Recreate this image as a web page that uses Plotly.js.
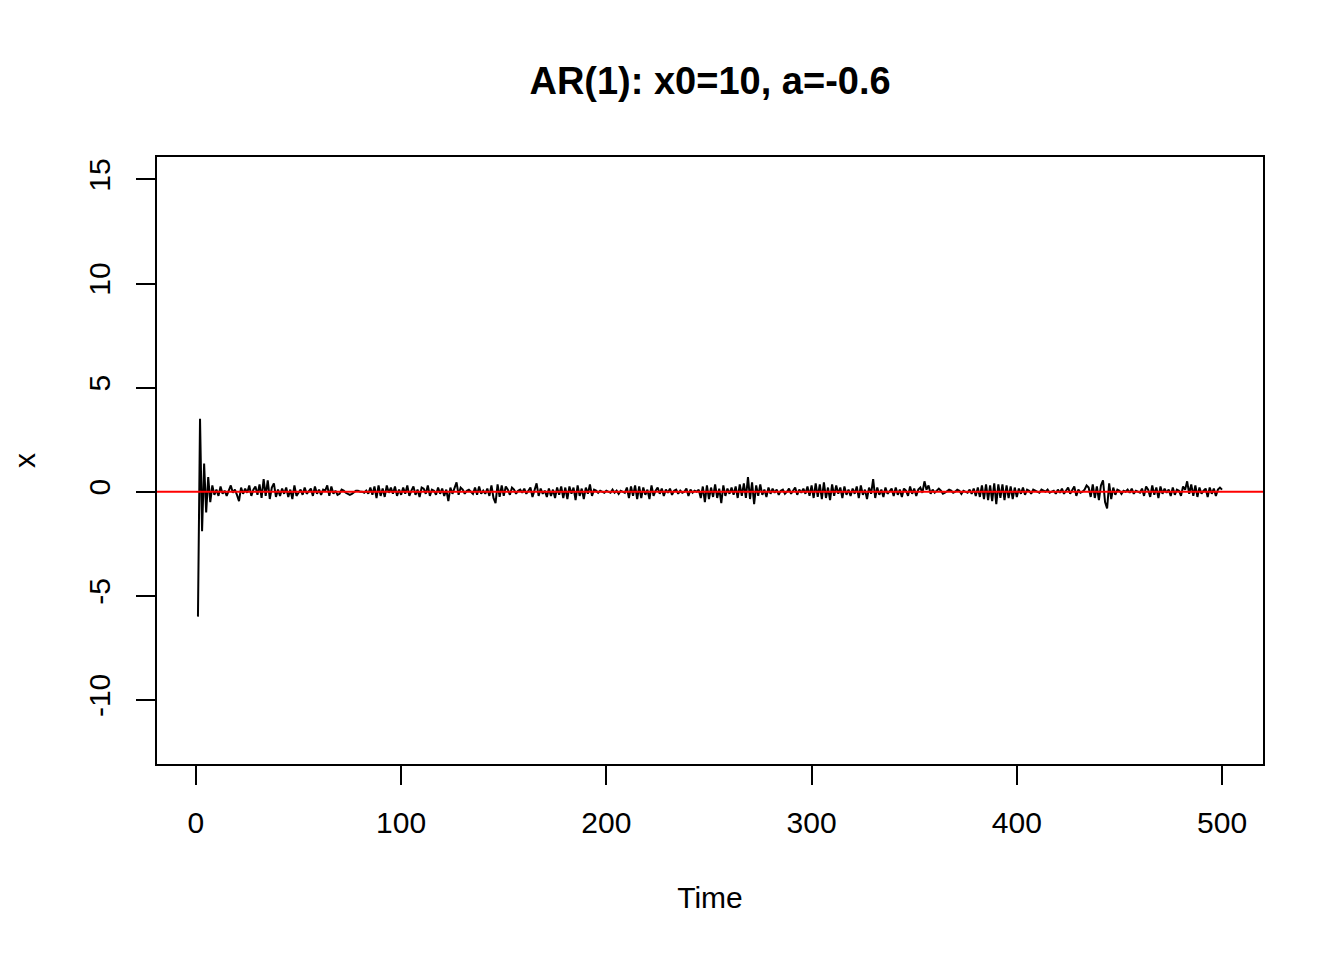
<!DOCTYPE html>
<html>
<head>
<meta charset="utf-8">
<script src="https://cdn.plot.ly/plotly-3.0.1.min.js"></script>
<style>html,body{margin:0;padding:0;background:#fff;}#chart{width:1344px;height:960px;}</style>
</head>
<body>
<div id="chart"></div>
<script>
// AR(1) series values (t = 1..500)
const seriesX = [
-6.0, 3.5, -1.9, 1.35, -1.0, 0.7, -0.5, 0.3, -0.15, 0.1, -0.2, 0.25, -0.1, 0.05, -0.2, 0.1, 0.3, -0.05, 0.1, -0.15,
-0.45, 0.2, -0.1, 0.15, -0.05, 0.3, -0.2, 0.1, 0.25, -0.15, 0.35, -0.3, 0.6, -0.2, 0.55, -0.35, 0.2, 0.4, -0.25, 0.1,
-0.2, 0.15, -0.1, 0.2, -0.25, 0.1, -0.35, 0.3, -0.2, -0.05, 0.1, -0.15, 0.2, -0.1, 0.05, 0.15, -0.2, 0.25, -0.1, 0.1,
-0.15, 0.1, 0.05, 0.3, -0.2, 0.25, -0.1, 0.05, -0.15, -0.1, 0.1, 0.05, -0.05, -0.1, -0.15, -0.1, 0.0, 0.05, 0.05, 0.0,
0.0, -0.05, 0.05, -0.1, 0.2, -0.15, 0.25, -0.3, 0.3, -0.2, 0.15, -0.25, 0.3, -0.05, 0.2, -0.1, 0.25, -0.2, 0.1, -0.15,
0.2, -0.1, 0.3, -0.2, 0.05, 0.25, -0.15, 0.1, -0.25, 0.2, 0.15, -0.1, 0.3, -0.2, 0.1, 0.05, -0.15, 0.2, -0.1, 0.15,
-0.2, 0.1, -0.45, 0.2, -0.1, 0.15, 0.45, -0.15, 0.2, 0.1, -0.1, 0.05, 0.1, 0.0, -0.1, 0.2, -0.15, 0.25, -0.1, 0.05,
-0.1, 0.15, -0.2, 0.3, -0.3, -0.55, 0.35, -0.25, 0.3, -0.2, 0.25, 0.1, -0.15, 0.2, 0.1, -0.1, 0.05, 0.1, -0.05, 0.15,
-0.1, 0.05, 0.2, -0.25, 0.1, 0.4, -0.2, 0.15, -0.1, 0.05, -0.25, 0.15, -0.2, 0.1, -0.3, 0.2, -0.15, 0.25, -0.3, 0.2,
-0.35, 0.25, -0.1, 0.2, -0.4, 0.3, -0.2, 0.15, -0.35, 0.2, -0.1, 0.35, -0.2, 0.1, 0.05, -0.05, 0.05, 0.0, -0.05, 0.05,
0.0, -0.05, 0.1, -0.05, 0.05, -0.1, 0.05, 0.0, -0.05, 0.2, -0.3, 0.25, -0.2, 0.3, -0.35, 0.25, -0.3, 0.2, -0.15, 0.1,
-0.35, 0.3, -0.2, 0.05, 0.2, -0.1, 0.15, -0.2, 0.1, -0.05, 0.15, -0.15, 0.05, 0.1, -0.1, 0.05, -0.05, 0.0, 0.15, -0.2,
0.1, -0.05, 0.05, 0.0, 0.1, -0.3, 0.25, -0.5, 0.3, -0.35, 0.2, -0.25, 0.35, -0.3, 0.15, -0.55, 0.3, -0.2, 0.15, -0.1,
0.2, -0.15, 0.25, -0.3, 0.35, -0.2, 0.4, -0.3, 0.7, -0.35, 0.45, -0.6, 0.3, -0.2, 0.35, -0.15, 0.1, -0.25, 0.2, -0.1,
0.15, -0.05, 0.1, -0.15, 0.05, 0.1, -0.1, 0.0, 0.15, -0.1, 0.05, 0.2, -0.15, 0.1, -0.05, 0.15, -0.1, 0.25, -0.2, 0.3,
-0.3, 0.4, -0.25, 0.35, -0.35, 0.45, -0.3, 0.2, -0.4, 0.35, -0.2, 0.3, -0.1, 0.2, -0.3, 0.25, -0.15, 0.1, -0.2, 0.15,
-0.1, 0.25, -0.3, 0.3, -0.15, 0.1, -0.35, 0.2, -0.1, 0.6, -0.3, 0.2, -0.15, 0.1, -0.25, 0.2, -0.1, 0.05, 0.15, -0.2,
0.2, -0.15, 0.1, -0.25, 0.15, 0.05, -0.2, 0.25, -0.1, 0.15, -0.2, 0.1, 0.2, -0.05, 0.5, 0.1, 0.3, -0.1, 0.1, -0.05,
0.05, 0.15, 0.05, -0.1, -0.05, 0.05, 0.1, 0.05, -0.05, 0.0, 0.1, 0.05, -0.1, 0.05, 0.0, -0.05, 0.1, -0.1, 0.15, -0.2,
0.2, -0.25, 0.3, -0.35, 0.35, -0.4, 0.3, -0.45, 0.4, -0.6, 0.35, -0.3, 0.35, -0.4, 0.3, -0.3, 0.25, -0.35, 0.2, -0.25,
0.15, -0.1, 0.2, -0.15, 0.1, 0.05, -0.1, 0.1, 0.05, 0.0, -0.05, 0.1, 0.05, 0.0, 0.1, -0.05, 0.0, 0.05, -0.1, 0.1,
-0.05, 0.15, -0.1, 0.05, 0.2, -0.1, 0.05, 0.25, -0.2, 0.1, -0.05, 0.0, 0.1, 0.3, 0.2, -0.25, 0.35, -0.3, 0.25, -0.4,
0.3, 0.55, -0.5, -0.8, 0.4, -0.35, 0.2, -0.15, 0.1, 0.05, -0.1, 0.05, 0.0, 0.1, -0.05, 0.15, -0.1, 0.05, 0.0, -0.05,
0.15, -0.2, 0.25, 0.1, -0.25, 0.3, -0.15, 0.2, -0.3, 0.25, -0.1, 0.15, -0.05, 0.1, -0.2, 0.2, -0.15, 0.1, 0.05, -0.2,
0.25, 0.1, 0.5, -0.1, 0.35, -0.2, 0.3, -0.25, 0.2, -0.1, 0.05, 0.15, -0.25, 0.2, -0.1, 0.15, -0.2, 0.1, 0.2, 0.1
];
const timeIdx = seriesX.map((_, i) => i + 1);
const xTicks = [0, 100, 200, 300, 400, 500];
const yTicks = [-10, -5, 0, 5, 10, 15];
const refLevel = 0;

const font = "Liberation Sans, Arial, sans-serif";

const data = [{
  x: timeIdx, y: seriesX, type: 'scatter', mode: 'lines',
  line: {color: '#000000', width: 2}, hoverinfo: 'x+y', showlegend: false
}];

const layout = {
  width: 1344, height: 960,
  paper_bgcolor: '#ffffff', plot_bgcolor: '#ffffff',
  margin: {l: 157, r: 81, t: 157, b: 196, pad: 0},
  font: {family: font, size: 30, color: '#000'},
  title: {text: '<b>AR(1): x0=10, a=-0.6</b>', x: 0.5283, xanchor: 'center', y: 0.916, yanchor: 'middle',
          font: {family: font, size: 38, color: '#000'}},
  xaxis: {
    range: [-18.96, 519.96], tickmode: 'array', tickvals: xTicks, ticktext: xTicks.map(String),
    showgrid: false, zeroline: false, showline: true, mirror: true, linecolor: '#000', linewidth: 2,
    ticks: 'outside', ticklen: 19, tickwidth: 2, tickcolor: '#000', ticklabelstandoff: 12,
    tickfont: {family: font, size: 30, color: '#000'},
    title: {text: 'Time', standoff: 49, font: {family: font, size: 30, color: '#000'}}
  },
  yaxis: {
    range: [-13.08, 16.08], tickmode: 'array', tickvals: yTicks, ticktext: yTicks.map(String),
    showgrid: false, zeroline: false, showline: true, mirror: true, linecolor: '#000', linewidth: 2,
    ticks: 'outside', ticklen: 19, tickwidth: 2, tickcolor: '#000', tickangle: -90, ticklabelstandoff: 14,
    tickfont: {family: font, size: 30, color: '#000'},
    title: {text: 'x', standoff: 39, font: {family: font, size: 30, color: '#000'}}
  },
  shapes: [{type: 'line', xref: 'paper', x0: 0, x1: 1, yref: 'y', y0: refLevel, y1: refLevel,
            line: {color: '#ff0000', width: 2}, layer: 'above'}]
};

Plotly.newPlot('chart', data, layout, {displayModeBar: false, staticPlot: true});
</script>
</body>
</html>
